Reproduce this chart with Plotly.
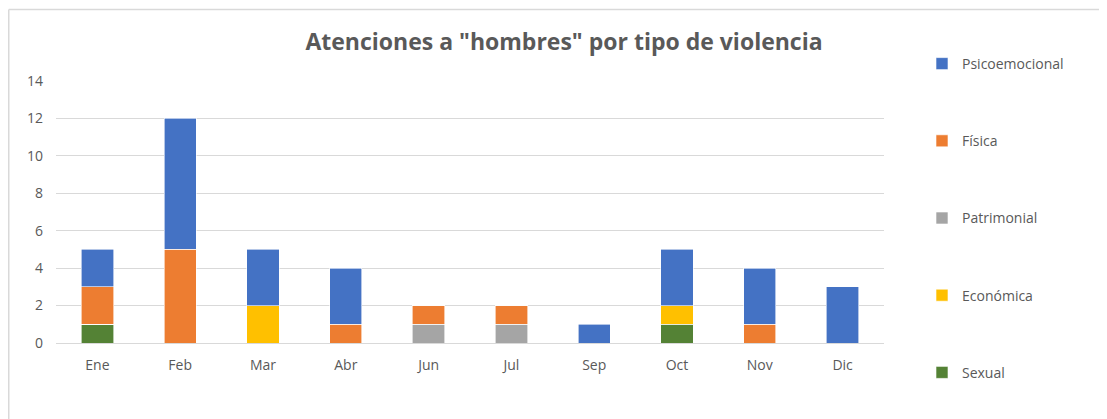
import plotly.graph_objects as go

months = ["Ene", "Feb", "Mar", "Abr", "Jun", "Jul", "Sep", "Oct", "Nov", "Dic"]
sexual = [1, 0, 0, 0, 0, 0, 0, 1, 0, 0]
economica = [0, 0, 2, 0, 0, 0, 0, 1, 0, 0]
patrimonial = [0, 0, 0, 0, 1, 1, 0, 0, 0, 0]
fisica = [2, 5, 0, 1, 1, 1, 0, 0, 1, 0]
psicoemocional = [2, 7, 3, 3, 0, 0, 1, 3, 3, 3]

series = [
    ("Sexual", sexual, "#548235", 5),
    ("Económica", economica, "#FFC000", 4),
    ("Patrimonial", patrimonial, "#A5A5A5", 3),
    ("Física", fisica, "#ED7D31", 2),
    ("Psicoemocional", psicoemocional, "#4472C4", 1),
]

title_text = 'Atenciones a "hombres" por tipo de violencia'
y_ticks = [0, 2, 4, 6, 8, 10, 12, 14]

fig = go.Figure()
for name, vals, color, rank in series:
    fig.add_trace(go.Bar(
        x=months, y=vals, name=name, legendgroup=name, legendrank=rank,
        marker=dict(color=color, line=dict(color="white", width=0.6)),
    ))

grey = "#595959"
W, H = 1107, 419
L, T, B, PW = 48, 73, 335, 828
PH = B - T
fig.update_layout(
    barmode="stack",
    bargap=0.61,
    width=W, height=H,
    margin=dict(l=L, r=W - L - PW, t=T, b=H - B),
    paper_bgcolor="white", plot_bgcolor="white",
    font=dict(family="Open Sans, sans-serif", size=14, color=grey),
    title=dict(text="<b>" + title_text + "</b>", x=556 / W, xref="container", xanchor="center",
               y=1 - 34 / H, yanchor="middle",
               font=dict(size=23, color=grey, family="Open Sans, sans-serif")),
    legend=dict(traceorder="grouped", tracegroupgap=56, maxheight=H,
                x=(914 - L) / PW, xanchor="left", y=(B - 40) / PH, yanchor="top",
                font=dict(size=14, color=grey), bgcolor="rgba(0,0,0,0)"),
    showlegend=True,
)
fig.update_yaxes(range=[0, 14], tickvals=y_ticks, showgrid=True, gridcolor="#D9D9D9",
                 gridwidth=1, zeroline=False, showline=False, ticks="",
                 tickfont=dict(size=14, color=grey), ticklabelstandoff=12)
fig.update_xaxes(showgrid=False, showline=True, linecolor="#D9D9D9", linewidth=1,
                 ticks="", tickfont=dict(size=14, color=grey), ticklabelstandoff=9)

# chart frame (top and left border of the embedded chart object)
x_left = (0.75 - L) / PW
y_top = (B - 1.5) / PH
fig.add_shape(type="line", xref="paper", yref="paper", x0=x_left, x1=1.4,
              y0=y_top, y1=y_top, line=dict(color="#D9D9D9", width=1.5))
fig.add_shape(type="line", xref="paper", yref="paper", x0=x_left, x1=x_left,
              y0=y_top, y1=-0.5, line=dict(color="#D9D9D9", width=1.5))

fig.write_html("out.html")
